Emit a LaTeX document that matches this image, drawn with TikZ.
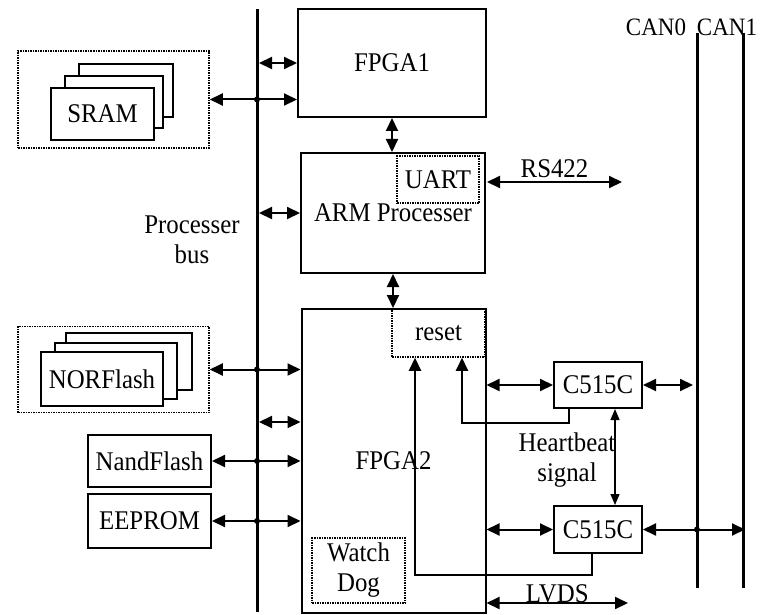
\documentclass[tikz,border=0pt]{standalone}
\usepackage{fontspec}
\setmainfont{Liberation Serif}[FakeStretch=0.92]
\usetikzlibrary{arrows.meta,positioning,calc}

\begin{document}
\begin{tikzpicture}[x=1pt, y=-1pt,
    font=\fontsize{27}{30}\selectfont,
    block/.style={draw, line width=2pt, rectangle, inner sep=0pt, align=center},
    dotblock/.style={draw, densely dotted, line width=1.5pt, rectangle, inner sep=0pt, align=center},
    arrow/.style={<->, line width=2pt, >={Triangle[length=13pt,width=12pt]}},
    feed/.style={->, line width=2pt, >={Triangle[length=13pt,width=12pt]}},
    thinarrow/.style={<->, line width=1.2pt, >={Triangle[length=11pt,width=9pt]}},
    bus/.style={line width=3pt},
    junction/.style={circle, fill, inner sep=0pt, minimum size=6pt},
    canlabel/.style={inner sep=0pt, font=\fontsize{25}{28}\selectfont}
]
    \useasboundingbox (0,0) rectangle (760,615);

    % processor side
    \node [block, minimum width=188pt, minimum height=108pt] (fpga1) at (392,63) {FPGA1};
    \node [block, minimum width=184pt, minimum height=120pt] (arm) at (393,213) {ARM Processer};
    \node [dotblock, minimum width=82pt, minimum height=47pt] (uart) at (438,179.5) {UART};
    \node [block, minimum width=184pt, minimum height=304pt] (fpga2) at (393.5,461) {FPGA2};
    \node [dotblock, minimum width=93pt, minimum height=48pt] (reset) at (438.5,333) {reset};
    \node [dotblock, minimum width=93pt, minimum height=65pt] (wdog) at (358.5,570.5) {Watch\\Dog};

    % memories
    \node [dotblock, minimum width=191pt, minimum height=97pt] (sramgrp) at (113.5,99.5) {};
    \node [block, fill=white, minimum width=94pt, minimum height=53pt] (sram3) at (126,90.5) {};
    \node [block, fill=white, minimum width=98pt, minimum height=52pt] (sram2) at (114,102) {};
    \node [block, fill=white, minimum width=103pt, minimum height=52pt] (sram1) at (102.5,114) {SRAM};

    \node [dotblock, minimum width=191pt, minimum height=86pt] (norgrp) at (113.5,369.5) {};
    \node [block, fill=white, minimum width=126pt, minimum height=57pt] (nor3) at (129,361.5) {};
    \node [block, fill=white, minimum width=122pt, minimum height=56pt] (nor2) at (116,371) {};
    \node [block, fill=white, minimum width=122pt, minimum height=54pt] (nor1) at (102,379) {NORFlash};

    \node [block, minimum width=123pt, minimum height=52pt] (nand) at (149.5,461) {NandFlash};
    \node [block, minimum width=123pt, minimum height=54pt] (eeprom) at (149.5,521) {EEPROM};

    % bus
    \coordinate (bustop) at (257,9);
    \coordinate (busbot) at (257,612);
    \coordinate (busnor) at (259,422);
    \draw [bus] (bustop) -- (busbot);
    \node [align=center] (buslabel) at (192,240) {Processer\\bus};

    \draw [arrow] ([xshift=2pt]bustop |- fpga1.west) -- (fpga1.west);
    \draw [arrow] ([xshift=2pt]bustop |- arm.west) -- (arm.west);
    \draw [arrow] (busnor) -- (busnor -| fpga2.west);
    \draw [arrow] (sramgrp.east) -- (sramgrp.east -| fpga1.west);
    \draw [arrow] (norgrp.east) -- (norgrp.east -| fpga2.west);
    \draw [arrow] (nand.east) -- (nand.east -| fpga2.west);
    \draw [arrow] (eeprom.east) -- (eeprom.east -| fpga2.west);
    \node [junction] (j1) at (sramgrp.east -| bustop) {};
    \node [junction] (j2) at (norgrp.east -| bustop) {};
    \node [junction] (j3) at (nand.east -| bustop) {};
    \node [junction] (j4) at (eeprom.east -| bustop) {};

    \draw [arrow] (fpga1.south) -- (fpga1.south |- arm.north);
    \draw [arrow] (arm.south) -- (arm.south |- fpga2.north);

    % CAN side
    \node [block, minimum width=88pt, minimum height=46pt] (canA) at (598,385) {C515C};
    \node [block, minimum width=88pt, minimum height=47pt] (canB) at (598,529.5) {C515C};
    \coordinate (can0top) at (697,33);
    \coordinate (can0bot) at (697,588);
    \coordinate (can1top) at (743,33);
    \coordinate (can1bot) at (743,588);
    \draw [bus] (can0top) -- (can0bot);
    \draw [bus] (can1top) -- (can1bot);
    \node [canlabel] (can0) at (656,27) {CAN0};
    \node [canlabel] (can1) at (727,27) {CAN1};

    \draw [arrow] (fpga2.east |- canA.west) -- (canA.west);
    \draw [arrow] (fpga2.east |- canB.west) -- (canB.west);
    \draw [arrow] (canA.east) -- ([xshift=-4pt]canA.east -| can0top);
    \draw [arrow] (canB.east) -- ([xshift=2pt]canB.east -| can1top);
    \node [junction] (j5) at (canB.east -| can0top) {};

    \draw [thinarrow] ([xshift=17pt]canA.south) -- ([xshift=17pt]canB.north);
    \node [align=center] (hb) at (567,460) {Heartbeat\\signal};

    \draw [feed] ([xshift=-29pt]canA.south) -- ++(0,14) -| ([xshift=23.5pt]reset.south);
    \draw [feed] ([xshift=-6pt]canB.south) -- ++(0,21) -| ([xshift=-23.5pt]reset.south);

    % serial links
    \coordinate (rsend) at (622,182);
    \coordinate (lvdsend) at (628,603);
    \draw [arrow] ([xshift=1pt]arm.east |- rsend) -- (rsend) node [midway, above, inner sep=3pt] (rs) {RS422};
    \draw [arrow] (fpga2.east |- lvdsend) -- (lvdsend) node [midway, above, inner sep=0pt, yshift=-1pt] (lvds) {LVDS};

\end{tikzpicture}
\end{document}
